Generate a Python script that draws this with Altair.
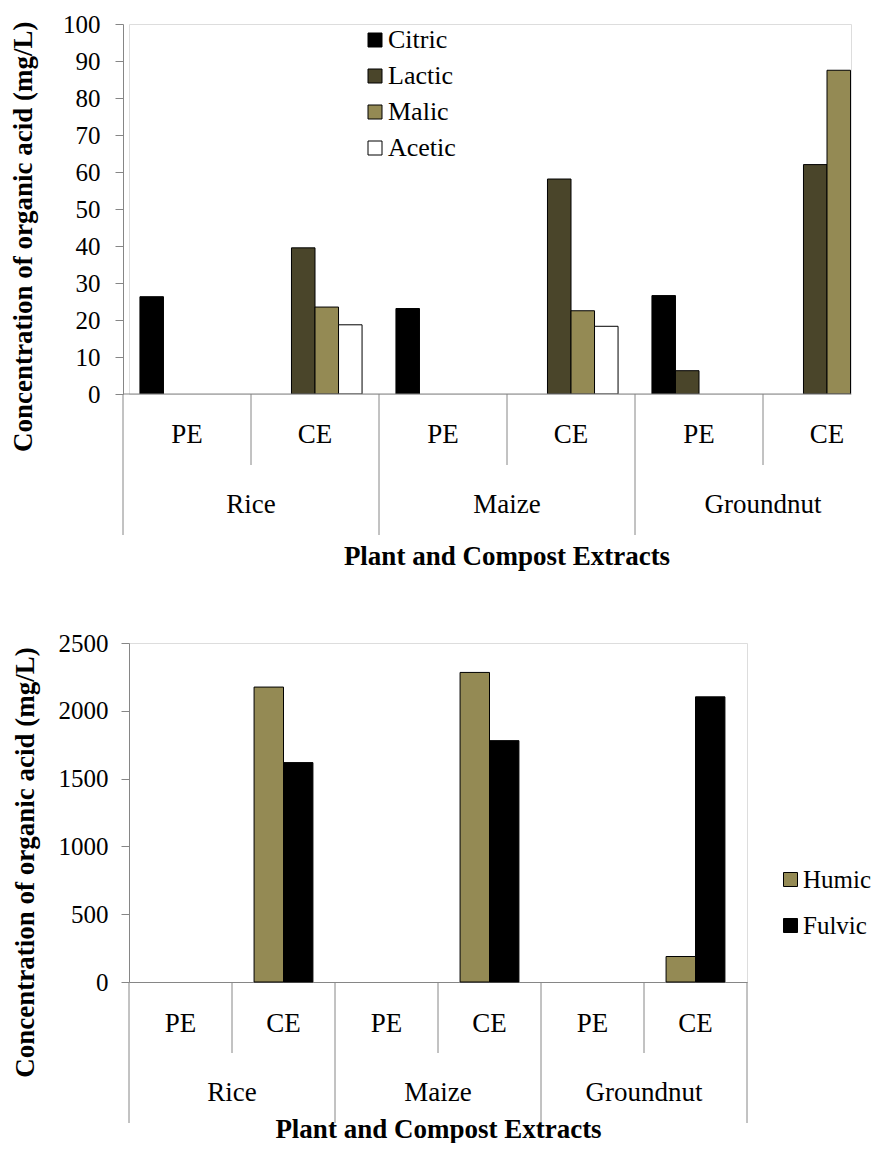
import altair as alt
import pandas as pd

# ---------------- data ----------------
crops = ["Rice", "Maize", "Groundnut"]
extracts = ["PE", "CE"]
categories = [f"{c}|{e}" for c in crops for e in extracts]

acids_top = ["Citric", "Lactic", "Malic", "Acetic"]
colors_top = ["#000000", "#4a452a", "#948a54", "#ffffff"]
# order: Rice PE, Rice CE, Maize PE, Maize CE, Groundnut PE, Groundnut CE
citric = [26.3, 0, 23.1, 0, 26.6, 0]
lactic = [0, 39.5, 0, 58.1, 6.3, 62.0]
malic = [0, 23.5, 0, 22.5, 0, 87.5]
acetic = [0, 18.7, 0, 18.3, 0, 0]
y_ticks_top = [0, 10, 20, 30, 40, 50, 60, 70, 80, 90, 100]

fractions = ["Humic", "Fulvic"]
colors_bottom = ["#948a54", "#000000"]
humic = [0, 2175, 0, 2283, 0, 188]
fulvic = [0, 1618, 0, 1780, 0, 2103]
y_ticks_bottom = [0, 500, 1000, 1500, 2000, 2500]

x_title = "Plant and Compost Extracts"
y_title = "Concentration of organic acid (mg/L)"

# ---------------- tables ----------------
top_rows = []
for name, vals in zip(acids_top, [citric, lactic, malic, acetic]):
    for cat, v in zip(categories, vals):
        top_rows.append({"cat": cat, "acid": name, "value": v})
top_df = pd.DataFrame(top_rows)

bot_rows = []
for name, vals in zip(fractions, [humic, fulvic]):
    for cat, v in zip(categories, vals):
        bot_rows.append({"cat": cat, "fraction": name, "value": v})
bot_df = pd.DataFrame(bot_rows)

sep_df = pd.DataFrame({"cat": categories, "kind": [c.split("|")[1] for c in categories]})
crop_df = pd.DataFrame({"cat": [f"{c}|CE" for c in crops], "crop": crops})
end_df = pd.DataFrame({"cat": [categories[-1]], "title": [x_title]})

FONT = "Liberation Serif, Times New Roman, Tinos, DejaVu Serif, serif"
GRAY = "#868686"

# ---------------- geometry (styling) ----------------
W_TOP, H_TOP = 722, 370
W_BOT, H_BOT = 618, 339
STEP_TOP = 128
SHIFT_TOP = 6  # top plot starts 6px left of the bottom one
SHORT, LONG = 71, 141


def y_axis_for(y_ticks, offset, label_pad, title_x, title_y, title_align):
    return alt.Axis(
        title=y_title, values=y_ticks, format="d", grid=False, domainColor=GRAY, tickColor=GRAY,
        tickSize=8, labelPadding=label_pad, labelFontSize=25, labelFont=FONT,
        labelColor="black", offset=offset,
        titleFont=FONT, titleFontSize=27, titleFontWeight="bold", titleColor="black",
        titleX=title_x, titleY=title_y, titleAlign=title_align, titleAngle=270,
    )


def legend_for(x, y, font_size, row_pad):
    return alt.Legend(orient="none", legendX=x, legendY=y, direction="vertical", title=None,
                      symbolType="square", symbolSize=196,
                      symbolStrokeColor="black", symbolStrokeWidth=1,
                      labelFont=FONT, labelFontSize=font_size, labelColor="black",
                      rowPadding=row_pad, labelOffset=0)


def common_layers(xenc, height):
    short_rules = alt.Chart(sep_df).transform_filter("datum.kind == 'CE'").mark_rule(
        color=GRAY, strokeWidth=1
    ).encode(x=xenc(0), y=alt.value(height), y2=alt.value(height + SHORT))
    long_rules = alt.Chart(sep_df).transform_filter("datum.kind == 'PE'").mark_rule(
        color=GRAY, strokeWidth=1
    ).encode(x=xenc(0), y=alt.value(height), y2=alt.value(height + LONG))
    crop_text = alt.Chart(crop_df).mark_text(
        font=FONT, fontSize=27, baseline="alphabetic", align="center", color="black"
    ).encode(x=xenc(0), y=alt.value(height + 119), text="crop:N")
    return [short_rules, long_rules, crop_text]


# ---------------- top chart (right end cropped, as in the source figure) ----------------
xscale_top = alt.Scale(domain=categories, range=[-SHIFT_TOP, -SHIFT_TOP + 6 * STEP_TOP],
                       paddingInner=0, paddingOuter=0)


def xenc_top(band_pos=None):
    if band_pos is None:
        return alt.X("cat:N", scale=xscale_top, axis=None, sort=categories)
    return alt.X("cat:N", bandPosition=band_pos, scale=xscale_top, axis=None, sort=categories)


top_bars = alt.Chart(top_df).transform_filter("datum.value > 0").mark_bar(
    stroke="black", strokeWidth=1, clip=True
).encode(
    x=xenc_top(),
    xOffset=alt.XOffset("acid:N", sort=acids_top,
                        scale=alt.Scale(domain=acids_top, paddingInner=0, paddingOuter=0.72)),
    y=alt.Y("value:Q", scale=alt.Scale(domain=[0, 100], nice=False),
            axis=y_axis_for(y_ticks_top, SHIFT_TOP, 15, -86, -3, "right")),
    color=alt.Color("acid:N", sort=acids_top,
                    scale=alt.Scale(domain=acids_top, range=colors_top),
                    legend=legend_for(233, 3, 26, 10)),
)
top_labels = alt.Chart(sep_df).mark_text(
    font=FONT, fontSize=27, baseline="alphabetic", align="center", color="black"
).encode(x=xenc_top(0.5), y=alt.value(H_TOP + 49), text="kind:N")
top_base = alt.Chart(end_df).mark_rule(color=GRAY, strokeWidth=1).encode(
    x=alt.value(-SHIFT_TOP), x2=alt.value(W_TOP), y=alt.value(H_TOP)
)
top_title = alt.Chart(end_df).mark_text(
    font=FONT, fontSize=27, fontWeight="bold", baseline="alphabetic", align="center",
    color="black"
).encode(x=alt.value(378), y=alt.value(H_TOP + 171), text="title:N")

top = alt.layer(top_bars, top_base, top_labels, *common_layers(xenc_top, H_TOP),
                top_title).properties(width=W_TOP, height=H_TOP)

# ---------------- bottom chart ----------------
xscale_bot = alt.Scale(domain=categories, range=[0, W_BOT], paddingInner=0, paddingOuter=0)
x_axis_bot = alt.Axis(
    title=x_title, labelExpr="split(datum.label, '|')[1]", labelAngle=0,
    domain=True, domainColor=GRAY, ticks=False, tickSize=0,
    labelPadding=49, labelBaseline="alphabetic", labelFontSize=27,
    labelFont=FONT, labelColor="black", labelOverlap=False,
    titleFont=FONT, titleFontSize=27, titleFontWeight="bold", titleColor="black",
    titleX=W_BOT / 2, titleY=155, titleBaseline="alphabetic", titleAlign="center",
)


def xenc_bot(band_pos=None):
    if band_pos is None:
        return alt.X("cat:N", scale=xscale_bot, axis=x_axis_bot, sort=categories)
    return alt.X("cat:N", bandPosition=band_pos, scale=xscale_bot, axis=x_axis_bot,
                 sort=categories)


bot_bars = alt.Chart(bot_df).transform_filter("datum.value > 0").mark_bar(
    stroke="black", strokeWidth=1
).encode(
    x=xenc_bot(),
    xOffset=alt.XOffset("fraction:N", sort=fractions,
                        scale=alt.Scale(domain=fractions, paddingInner=0, paddingOuter=0.75)),
    y=alt.Y("value:Q", scale=alt.Scale(domain=[0, 2500], nice=False),
            axis=y_axis_for(y_ticks_bottom, 0, 13, -89.5, 219, "center")),
    color=alt.Color("fraction:N", sort=fractions,
                    scale=alt.Scale(domain=fractions, range=colors_bottom),
                    legend=legend_for(649, 224, 25, 20)),
)
bot_end = alt.Chart(end_df).mark_rule(color=GRAY, strokeWidth=1).encode(
    x=xenc_bot(1), y=alt.value(H_BOT), y2=alt.value(H_BOT + LONG)
)
bottom = alt.layer(bot_bars, *common_layers(xenc_bot, H_BOT), bot_end).properties(
    width=W_BOT, height=H_BOT
)

chart = alt.vconcat(top, bottom, spacing=59).resolve_scale(
    color="independent", x="independent", y="independent", xOffset="independent"
).properties(
    padding={"left": 0, "top": 3, "right": 0, "bottom": 0},
).configure_view(stroke=None).configure(font=FONT)

chart.save("out.html", embed_options={"renderer": "svg", "actions": False})
